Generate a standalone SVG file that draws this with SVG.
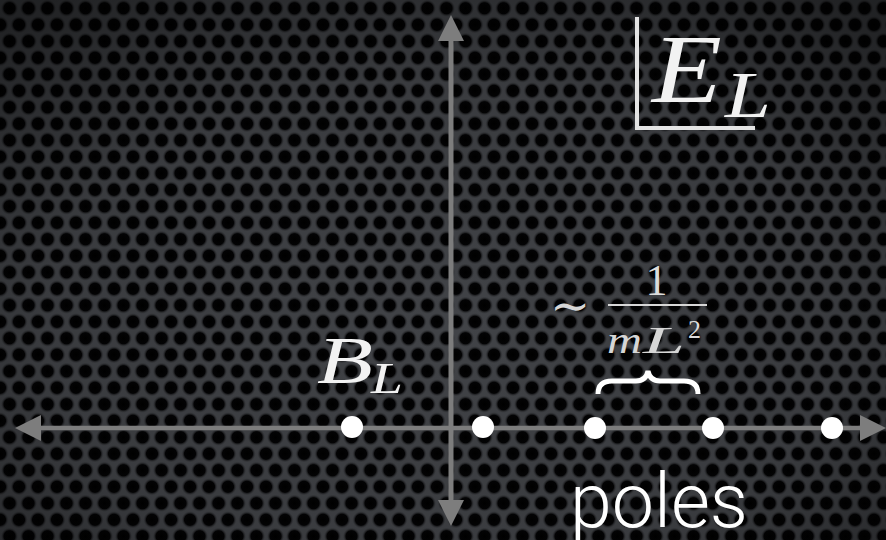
<svg xmlns="http://www.w3.org/2000/svg" width="886" height="540" viewBox="0 0 886 540">
  <defs>
    <radialGradient id="hole" cx="0.5" cy="0.5" r="0.5">
      <stop offset="0" stop-color="#000000"/>
      <stop offset="0.62" stop-color="#030304"/>
      <stop offset="1" stop-color="#414347" stop-opacity="0"/>
    </radialGradient>
    <pattern id="mesh" x="0" y="0" width="19" height="33" patternUnits="userSpaceOnUse">
      <rect width="19" height="33" fill="#414347"/>
      <circle cx="9.5" cy="8.25" r="9" fill="url(#hole)"/>
      <circle cx="0" cy="24.75" r="9" fill="url(#hole)"/>
      <circle cx="19" cy="24.75" r="9" fill="url(#hole)"/>
      <circle cx="9.5" cy="41.25" r="9" fill="url(#hole)"/>
      <circle cx="9.5" cy="-8.25" r="9" fill="url(#hole)"/>
    </pattern>
    <radialGradient id="vignette" cx="0.5" cy="0.6" r="0.75">
      <stop offset="0" stop-color="#000" stop-opacity="0"/>
      <stop offset="0.6" stop-color="#000" stop-opacity="0.12"/>
      <stop offset="1" stop-color="#000" stop-opacity="0.5"/>
    </radialGradient>
    <marker id="arrow" viewBox="0 0 26 26" markerWidth="26" markerHeight="26" refX="1" refY="13" orient="auto-start-reverse" markerUnits="userSpaceOnUse">
      <path d="M0,0 L26,13 L0,26 z" fill="#7d7d7d"/>
    </marker>
    <style>
      .axis { stroke: #7d7d7d; fill: none; marker-start: url(#arrow); marker-end: url(#arrow); }
      .pole { fill: #ffffff; }
      .math { font-family: "Liberation Serif", "Times New Roman", serif; font-style: italic; fill: #f2f2f2; }
      .rm { font-family: "Liberation Serif", "Times New Roman", serif; fill: #dcdcdc; }
      .frac { fill: #d6d6d6; }
      .label { font-family: Roboto, "Liberation Sans", sans-serif; font-weight: 300; fill: #ffffff; }
    </style>
  </defs>

  <rect width="886" height="540" fill="url(#mesh)"/>
  <rect width="886" height="540" fill="url(#vignette)"/>

  <g id="connectors">
    <line class="axis" x1="40" y1="428" x2="861" y2="428" stroke-width="4.5"/>
    <line class="axis" x1="451" y1="40" x2="451" y2="501" stroke-width="5"/>
  </g>

  <g id="energy-label">
    <polyline points="637,17 637,128 755,128" fill="none" stroke="#e4e4e4" stroke-width="4"/>
    <text class="math" x="652" y="102" font-size="97" textLength="70" lengthAdjust="spacingAndGlyphs">E</text>
    <text class="math" x="725" y="117" font-size="66" textLength="46" lengthAdjust="spacingAndGlyphs">L</text>
  </g>

  <g id="bound-state">
    <circle class="pole" cx="352" cy="427" r="11"/>
    <text class="math" x="317" y="383" font-size="68" textLength="56" lengthAdjust="spacingAndGlyphs">B</text>
    <text class="math" x="371" y="393" font-size="45" textLength="32" lengthAdjust="spacingAndGlyphs">L</text>
  </g>

  <g id="poles">
    <circle class="pole" cx="483" cy="427" r="11"/>
    <circle class="pole" cx="595" cy="428" r="11"/>
    <circle class="pole" cx="713" cy="428" r="11"/>
    <circle class="pole" cx="832" cy="428" r="11"/>
    <text class="label" x="570" y="527" font-size="76" textLength="178" lengthAdjust="spacingAndGlyphs">poles</text>
  </g>

  <g id="spacing">
    <path d="M598,394 Q598,381 612,381 L636,381 Q646,381 648,371 Q650,381 660,381 L684,381 Q698,381 698,394" fill="none" stroke="#ffffff" stroke-width="5"/>
    <text x="550" y="322" font-size="48" font-family="'DejaVu Serif', serif" fill="#d6d6d6">∼</text>
    <text class="rm" x="656.5" y="295" font-size="44" text-anchor="middle">1</text>
    <line x1="608" y1="305" x2="707" y2="305" stroke="#d6d6d6" stroke-width="2"/>
    <text class="math frac" x="607" y="353" font-size="38" textLength="35" lengthAdjust="spacingAndGlyphs">m</text>
    <text class="math frac" x="643" y="353" font-size="38" textLength="42" lengthAdjust="spacingAndGlyphs">L</text>
    <text class="rm" x="688" y="338" font-size="26">2</text>
  </g>
</svg>
